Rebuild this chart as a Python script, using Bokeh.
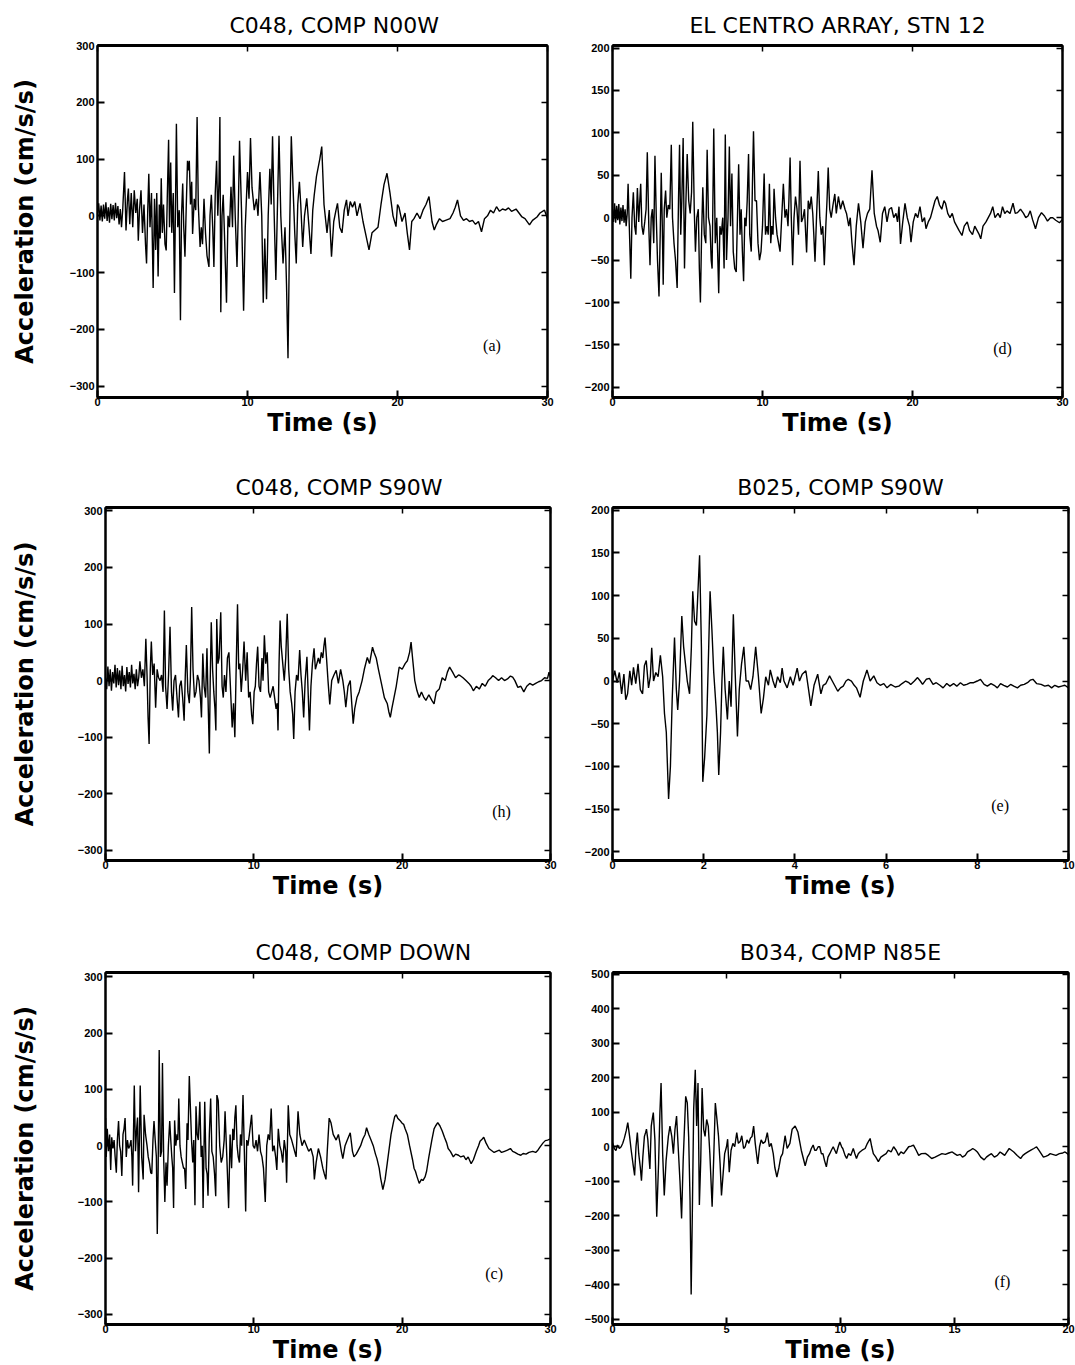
from bokeh.plotting import figure
from bokeh.layouts import column, row
from bokeh.models import LinearAxis, FixedTicker, Label, Range1d, CustomJSTickFormatter
from bokeh.embed import file_html
from bokeh.resources import INLINE

# ---------------- data ----------------
# (a) C048, COMP N00W
t_a = [
    0.00, 0.08, 0.16, 0.24, 0.32, 0.40, 0.48, 0.56, 0.64, 0.72,
    0.80, 0.88, 0.96, 1.04, 1.12, 1.20, 1.28, 1.36, 1.44, 1.52,
    1.60, 1.68, 1.80, 1.90, 2.00, 2.06, 2.15, 2.25, 2.35, 2.45,
    2.55, 2.65, 2.72, 2.80, 2.90, 3.00, 3.10, 3.20, 3.27, 3.35,
    3.42, 3.50, 3.60, 3.71, 3.80, 3.88, 3.95, 4.04, 4.12, 4.18,
    4.25, 4.32, 4.40, 4.50, 4.58, 4.65, 4.74, 4.80, 4.88, 4.95,
    5.05, 5.13, 5.20, 5.26, 5.35, 5.45, 5.53, 5.60, 5.68, 5.75,
    5.83, 5.92, 6.00, 6.07, 6.12, 6.20, 6.28, 6.34, 6.45, 6.55,
    6.64, 6.72, 6.84, 6.92, 7.00, 7.10, 7.20, 7.30, 7.43, 7.50,
    7.59, 7.68, 7.76, 7.85, 7.94, 8.02, 8.10, 8.16, 8.22, 8.30,
    8.38, 8.45, 8.60, 8.70, 8.80, 8.90, 9.00, 9.08, 9.18, 9.30,
    9.38, 9.47, 9.60, 9.74, 9.85, 10.00, 10.10, 10.20, 10.30, 10.45,
    10.60, 10.70, 10.83, 10.95, 11.05, 11.15, 11.27, 11.38, 11.49, 11.58,
    11.67, 11.78, 11.89, 12.00, 12.10, 12.22, 12.37, 12.50, 12.60, 12.70,
    12.80, 12.92, 13.05, 13.15, 13.25, 13.35, 13.46, 13.55, 13.68, 13.80,
    13.95, 14.10, 14.23, 14.35, 14.45, 14.60, 14.82, 14.95, 15.10, 15.30,
    15.45, 15.60, 15.75, 15.90, 16.00, 16.15, 16.30, 16.45, 16.60, 16.70,
    16.85, 17.00, 17.15, 17.30, 17.50, 17.70, 17.90, 18.10, 18.30, 18.50,
    18.70, 18.90, 19.10, 19.30, 19.50, 19.70, 19.90, 20.00, 20.10, 20.30,
    20.50, 20.65, 20.80, 20.95, 21.10, 21.30, 21.50, 21.70, 21.90, 22.10,
    22.30, 22.45, 22.60, 22.80, 23.00, 23.20, 23.50, 23.70, 23.85, 24.00,
    24.20, 24.40, 24.60, 24.80, 25.00, 25.20, 25.40, 25.60, 25.80, 26.00,
    26.20, 26.40, 26.60, 26.80, 27.00, 27.20, 27.40, 27.60, 27.90, 28.10,
    28.30, 28.50, 28.80, 29.00, 29.30, 29.50, 29.80, 30.00]
acc_a = [
    5, 22, -8, 18, -10, 20, -5, 24, -9, 15,
    -12, 21, -6, 19, -8, 23, -4, 17, -15, 12,
    -20, 10, 77, -26, 30, 48, -15, 40, -20, 45,
    5, 30, -44, 10, 45, -30, 20, -50, -84, 10,
    74, -20, 40, -127, 30, -60, 40, -107, 20, -40,
    66, -30, 20, -50, -61, 30, 134, -20, 94, -30,
    40, -136, 20, 162, -20, 10, -184, 0, 57, -20,
    -72, 20, 97, 80, 97, 20, 60, -32, 30, 10,
    174, 20, -55, -20, -50, 30, -30, -70, -90, 0,
    37, -20, -90, 40, 97, 0, 60, 174, -170, 0,
    37, -20, -153, 0, -20, 51, -20, 106, 0, -90,
    0, 132, 10, -167, -20, 77, 30, 137, 50, 10,
    30, 0, 77, 0, -153, -40, -147, 0, 83, 20,
    140, 0, -113, 20, 141, 0, -84, -20, -120, -251,
    -40, 140, 40, -30, -84, 20, 60, 20, -55, 0,
    31, -20, -67, 10, 37, 70, 100, 122, 20, -30,
    10, -72, -10, 10, 22, -20, -30, 10, 28, 0,
    25, 15, 25, 0, 22, -10, -35, -60, -30, -25,
    -20, 20, 55, 75, 40, 0, -19, 20, 15, -10,
    5, -30, -60, -10, -5, 5, -5, 10, 20, 34,
    -10, -25, -15, -5, -10, -8, -5, 5, 15, 28,
    0, -8, -5, -10, -8, -15, -10, -28, -5, 0,
    10, 5, 16, 8, 12, 10, 14, 8, 12, 5,
    -2, -5, -16, -8, -2, 5, 10, -5]

# (d) EL CENTRO ARRAY, STN 12
t_d = [
    0.00, 0.07, 0.14, 0.21, 0.28, 0.35, 0.42, 0.49, 0.56, 0.63,
    0.70, 0.77, 0.84, 0.91, 0.98, 1.04, 1.12, 1.22, 1.30, 1.39,
    1.48, 1.56, 1.66, 1.75, 1.82, 1.88, 1.96, 2.05, 2.15, 2.24,
    2.32, 2.42, 2.50, 2.58, 2.66, 2.75, 2.83, 2.92, 3.00, 3.10,
    3.18, 3.25, 3.32, 3.38, 3.45, 3.54, 3.62, 3.72, 3.82, 3.92,
    4.00, 4.10, 4.20, 4.31, 4.40, 4.47, 4.55, 4.62, 4.71, 4.80,
    4.88, 4.98, 5.08, 5.18, 5.27, 5.35, 5.45, 5.53, 5.62, 5.72,
    5.79, 5.86, 5.94, 6.02, 6.12, 6.22, 6.31, 6.40, 6.50, 6.58,
    6.64, 6.75, 6.85, 6.95, 7.08, 7.16, 7.25, 7.35, 7.44, 7.52,
    7.60, 7.70, 7.79, 7.87, 7.96, 8.05, 8.15, 8.25, 8.33, 8.41,
    8.50, 8.58, 8.66, 8.74, 8.82, 8.90, 8.98, 9.07, 9.15, 9.25,
    9.33, 9.40, 9.50, 9.60, 9.70, 9.80, 9.90, 10.00, 10.11, 10.20,
    10.30, 10.38, 10.46, 10.55, 10.62, 10.70, 10.77, 10.87, 10.97, 11.07,
    11.17, 11.28, 11.39, 11.50, 11.60, 11.70, 11.76, 11.84, 11.92, 12.01,
    12.10, 12.20, 12.30, 12.40, 12.50, 12.60, 12.70, 12.80, 12.94, 13.05,
    13.15, 13.25, 13.35, 13.42, 13.50, 13.60, 13.72, 13.82, 13.92, 14.02,
    14.12, 14.22, 14.30, 14.38, 14.48, 14.58, 14.70, 14.82, 14.92, 15.06,
    15.20, 15.35, 15.50, 15.60, 15.75, 15.85, 15.96, 16.10, 16.25, 16.40,
    16.55, 16.70, 16.85, 17.00, 17.15, 17.30, 17.45, 17.60, 17.70, 17.85,
    18.00, 18.15, 18.30, 18.45, 18.60, 18.75, 18.90, 19.00, 19.10, 19.20,
    19.35, 19.50, 19.65, 19.80, 19.90, 20.05, 20.20, 20.35, 20.50, 20.65,
    20.80, 20.90, 21.05, 21.20, 21.35, 21.50, 21.65, 21.80, 21.95, 22.10,
    22.20, 22.35, 22.50, 22.65, 22.80, 22.95, 23.10, 23.30, 23.45, 23.65,
    23.80, 24.00, 24.15, 24.30, 24.45, 24.55, 24.70, 24.90, 25.05, 25.20,
    25.35, 25.50, 25.70, 25.85, 26.00, 26.15, 26.30, 26.50, 26.70, 26.85,
    27.00, 27.20, 27.40, 27.55, 27.70, 27.85, 28.00, 28.20, 28.40, 28.60,
    28.80, 29.00, 29.20, 29.35, 29.55, 29.80, 30.00]
acc_d = [
    10, -5, 17, -6, 14, -3, 16, -8, 12, -4,
    15, -6, 10, -10, 5, 40, -10, -72, 0, 30,
    -10, -20, 35, -5, 20, 40, -10, -20, -5, 10,
    77, -10, -56, 0, 10, -30, 73, 0, -50, -93,
    -20, 53, -10, -79, 10, 32, 0, 15, 10, 86,
    0, -30, -50, -83, 20, 86, -20, 20, 94, -60,
    10, 75, 20, 5, 30, 113, 10, -40, 0, 10,
    -60, -100, -20, 36, -20, -30, 80, 0, -10, -50,
    -60, 105, -30, 0, -89, -10, -20, 0, -60, 98,
    -50, 0, 84, -10, 52, -40, -60, -64, 0, 63,
    -20, 10, -40, -75, 0, -10, 20, 75, -20, -40,
    40, 102, 20, 20, -30, -50, -40, -10, 52, -20,
    -10, -20, 40, -30, -10, -20, 34, 0, -20, -30,
    -40, 0, 40, 0, 10, -10, 20, 71, 0, -56,
    0, 25, 10, -20, 67, -5, 0, 10, -41, 20,
    10, 25, 5, -20, -52, 0, 55, 0, -20, -10,
    -56, -10, 20, 59, 10, 0, 15, 28, 5, 25,
    10, 20, 10, 5, -10, 0, -29, -56, -10, 17,
    -5, -36, -5, 5, 10, 56, 5, -10, -15, -29,
    5, 13, -5, 10, 12, 0, 5, -5, 13, -31,
    -5, 17, 0, -10, -29, -5, 5, 0, 13, -5,
    0, -13, -5, 0, 10, 20, 25, 15, 10, 20,
    17, 5, 0, 5, -5, -10, -15, -21, -10, -5,
    -15, -20, -10, -15, -20, -25, -10, -5, 0, 5,
    13, 0, 5, 0, 13, 5, 8, 5, 17, 5,
    6, 10, 5, 0, 2, 8, -2, -13, 0, 6,
    2, -4, 0, 0, -3, -6, -2]

# (b) C048, COMP S90W
t_b = [
    0.00, 0.08, 0.16, 0.24, 0.32, 0.40, 0.48, 0.56, 0.64, 0.72,
    0.80, 0.88, 0.96, 1.04, 1.12, 1.20, 1.28, 1.36, 1.44, 1.52,
    1.60, 1.68, 1.76, 1.84, 1.92, 2.00, 2.08, 2.16, 2.24, 2.32,
    2.42, 2.52, 2.62, 2.72, 2.80, 2.87, 2.94, 3.02, 3.09, 3.18,
    3.28, 3.38, 3.48, 3.58, 3.68, 3.78, 3.88, 3.97, 4.05, 4.15,
    4.25, 4.35, 4.45, 4.53, 4.62, 4.72, 4.82, 4.92, 5.00, 5.10,
    5.20, 5.30, 5.38, 5.45, 5.55, 5.65, 5.72, 5.81, 5.90, 6.00,
    6.10, 6.20, 6.30, 6.40, 6.47, 6.56, 6.65, 6.75, 6.84, 6.92,
    7.00, 7.06, 7.13, 7.22, 7.30, 7.38, 7.44, 7.50, 7.58, 7.66,
    7.77, 7.86, 7.94, 8.02, 8.12, 8.22, 8.32, 8.42, 8.54, 8.63,
    8.72, 8.80, 8.90, 8.98, 9.06, 9.15, 9.25, 9.34, 9.45, 9.55,
    9.65, 9.75, 9.85, 9.93, 10.02, 10.10, 10.18, 10.26, 10.35, 10.45,
    10.55, 10.62, 10.71, 10.80, 10.90, 11.00, 11.10, 11.20, 11.30, 11.40,
    11.50, 11.58, 11.63, 11.70, 11.77, 11.85, 11.95, 12.05, 12.15, 12.25,
    12.35, 12.45, 12.55, 12.62, 12.69, 12.78, 12.88, 12.98, 13.09, 13.18,
    13.27, 13.36, 13.46, 13.58, 13.66, 13.75, 13.85, 13.95, 14.06, 14.15,
    14.25, 14.35, 14.45, 14.55, 14.65, 14.72, 14.80, 14.90, 15.00, 15.12,
    15.25, 15.40, 15.55, 15.70, 15.85, 16.00, 16.10, 16.20, 16.35, 16.50,
    16.60, 16.70, 16.80, 16.95, 17.10, 17.30, 17.45, 17.65, 17.80, 18.00,
    18.10, 18.25, 18.40, 18.60, 18.80, 19.00, 19.10, 19.20, 19.30, 19.45,
    19.60, 19.80, 20.00, 20.20, 20.35, 20.50, 20.60, 20.70, 20.85, 21.00,
    21.15, 21.30, 21.45, 21.60, 21.80, 22.00, 22.15, 22.30, 22.50, 22.70,
    22.90, 23.05, 23.20, 23.40, 23.60, 23.80, 23.90, 24.10, 24.30, 24.50,
    24.65, 24.80, 25.00, 25.20, 25.40, 25.60, 25.80, 26.00, 26.10, 26.30,
    26.50, 26.70, 26.90, 27.10, 27.30, 27.45, 27.60, 27.80, 28.00, 28.20,
    28.40, 28.60, 28.80, 29.00, 29.20, 29.40, 29.60, 29.80, 29.90, 30.00]
acc_b = [
    5, -15, 25, -10, 20, -18, 15, -5, 28, -12,
    22, -8, 18, -15, 26, -10, 10, -19, 24, -6,
    15, -12, 28, -5, 12, -15, 20, -10, 5, 34,
    5, 20, -10, 74, 10, -65, -112, 20, 69, 10,
    30, -48, 20, 5, 0, 10, -20, 124, -10, -50,
    10, 95, -20, -53, 0, 10, -30, -65, -10, 0,
    -30, -71, 10, 63, -20, -40, 0, 130, 20, -30,
    -20, 10, 0, -30, -65, 48, -10, -30, 57, -40,
    -129, 0, 103, 20, -20, -50, -88, 109, 30, 40,
    121, -10, -30, 10, -20, 40, 50, -10, -83, -40,
    -100, 10, 135, 20, 30, -20, 20, 69, 0, 50,
    -30, -20, -60, -77, -20, -10, 30, 60, -10, -20,
    40, 0, 80, 30, 50, -20, -30, -20, -10, -30,
    -50, -40, -88, 30, 106, 60, 30, 0, 40, 118,
    20, -20, -40, -60, -103, -20, 10, 0, 54, 10,
    -20, -65, 0, 42, -20, -88, -10, 30, 57, 20,
    30, 40, 30, 50, 40, 60, 76, 40, 0, -42,
    0, 10, 18, -5, 20, 0, -20, -47, -10, 0,
    -40, -76, -50, -30, -20, 0, 20, 41, 30, 59,
    50, 40, 20, -5, -30, -41, -55, -65, -50, -30,
    -10, 24, 20, 30, 35, 50, 68, 40, 0, -18,
    -30, -20, -29, -35, -25, -35, -41, -20, -15, 5,
    0, 15, 24, 15, 5, 10, 9, 5, 0, -5,
    -10, -18, -10, -15, -5, -10, 0, 5, 9, 5,
    0, 5, 0, 3, 8, 6, 0, -12, -10, -20,
    -10, -5, -8, -5, -2, 0, 5, 4, 15, 5]

# (e) B025, COMP S90W
t_e = [
    0.00, 0.05, 0.10, 0.15, 0.20, 0.25, 0.29, 0.33, 0.38, 0.42,
    0.46, 0.51, 0.56, 0.61, 0.66, 0.70, 0.74, 0.79, 0.83, 0.86,
    0.90, 0.95, 1.00, 1.05, 1.10, 1.14, 1.18, 1.23, 1.27, 1.31,
    1.36, 1.40, 1.43, 1.47, 1.52, 1.56, 1.60, 1.64, 1.69, 1.73,
    1.76, 1.80, 1.84, 1.87, 1.91, 1.95, 1.98, 2.02, 2.07, 2.11,
    2.14, 2.18, 2.22, 2.27, 2.30, 2.33, 2.37, 2.40, 2.43, 2.47,
    2.52, 2.56, 2.60, 2.65, 2.69, 2.74, 2.78, 2.83, 2.88, 2.93,
    2.98, 3.03, 3.08, 3.14, 3.20, 3.26, 3.31, 3.36, 3.42, 3.46,
    3.52, 3.57, 3.62, 3.68, 3.72, 3.76, 3.83, 3.90, 3.96, 4.05,
    4.10, 4.16, 4.24, 4.30, 4.35, 4.42, 4.50, 4.57, 4.62, 4.68,
    4.76, 4.82, 4.87, 4.94, 5.00, 5.06, 5.12, 5.17, 5.24, 5.30,
    5.35, 5.43, 5.50, 5.55, 5.58, 5.65, 5.73, 5.80, 5.87, 5.95,
    6.02, 6.10, 6.20, 6.28, 6.35, 6.43, 6.50, 6.54, 6.62, 6.69,
    6.75, 6.80, 6.88, 6.95, 7.03, 7.10, 7.18, 7.25, 7.33, 7.40,
    7.48, 7.55, 7.63, 7.70, 7.77, 7.85, 7.92, 8.00, 8.07, 8.15,
    8.22, 8.30, 8.37, 8.44, 8.51, 8.58, 8.66, 8.73, 8.80, 8.88,
    8.95, 9.03, 9.10, 9.16, 9.22, 9.30, 9.40, 9.48, 9.56, 9.63,
    9.70, 9.78, 9.85, 9.92, 10.00]
acc_e = [
    0, 12, -2, 10, -15, 8, -22, -15, 12, -5,
    16, -3, 20, -10, -15, 18, 24, -8, 5, 39,
    0, 10, 5, 30, 5, -38, -60, -138, -100, -20,
    51, -10, -34, 0, 76, 40, 20, 0, -15, 40,
    105, 70, 65, 100, 147, 40, -118, -90, -40, 40,
    105, 60, 10, -30, -60, -110, -60, 0, 40, -10,
    -45, 0, -30, 78, 10, -65, -10, 20, 40, 0,
    0, -10, 5, 40, 5, -38, -20, 5, -5, 13,
    0, -8, 5, -2, 15, 0, -8, 5, -5, 15,
    0, 8, 12, -10, -29, -5, 8, -15, -5, -3,
    6, 0, -5, -12, -8, -6, 0, 2, 0, -5,
    -8, -19, 0, 8, 13, 0, 6, -2, -5, -3,
    -8, -4, -7, -6, -3, 0, -2, -4, 0, 4,
    0, -4, 2, 3, -4, -2, -5, -8, -3, -6,
    -3, -6, -2, -5, -4, -2, -2, 0, 2, -4,
    -6, -3, -5, -8, -3, -5, -7, -4, -6, -8,
    -5, -4, -2, 1, 2, -3, -4, -6, -5, -8,
    -5, -7, -6, -5, -8]

# (c) C048, COMP DOWN
t_c = [
    0.00, 0.05, 0.12, 0.20, 0.28, 0.35, 0.42, 0.50, 0.58, 0.65,
    0.73, 0.80, 0.88, 0.95, 1.02, 1.10, 1.18, 1.25, 1.32, 1.40,
    1.48, 1.56, 1.64, 1.72, 1.78, 1.83, 1.94, 2.02, 2.10, 2.16,
    2.23, 2.34, 2.44, 2.54, 2.60, 2.70, 2.80, 2.88, 2.96, 3.05,
    3.12, 3.20, 3.27, 3.35, 3.43, 3.49, 3.55, 3.62, 3.70, 3.78,
    3.84, 3.92, 4.00, 4.08, 4.15, 4.24, 4.33, 4.40, 4.47, 4.53,
    4.59, 4.66, 4.74, 4.82, 4.88, 4.94, 5.02, 5.10, 5.18, 5.26,
    5.33, 5.41, 5.50, 5.56, 5.65, 5.72, 5.80, 5.88, 5.95, 6.03,
    6.10, 6.18, 6.26, 6.36, 6.45, 6.52, 6.58, 6.69, 6.78, 6.85,
    6.91, 7.00, 7.09, 7.17, 7.26, 7.35, 7.43, 7.51, 7.60, 7.70,
    7.80, 7.90, 8.00, 8.06, 8.15, 8.22, 8.30, 8.40, 8.50, 8.58,
    8.66, 8.72, 8.79, 8.87, 8.95, 9.03, 9.10, 9.18, 9.27, 9.36,
    9.45, 9.52, 9.60, 9.70, 9.85, 9.95, 10.05, 10.15, 10.25, 10.35,
    10.45, 10.55, 10.65, 10.77, 10.87, 10.97, 11.07, 11.17, 11.27, 11.37,
    11.47, 11.55, 11.65, 11.75, 11.85, 11.95, 12.05, 12.15, 12.21, 12.32,
    12.42, 12.55, 12.65, 12.75, 12.85, 12.98, 13.10, 13.25, 13.40, 13.55,
    13.70, 13.85, 14.00, 14.08, 14.20, 14.35, 14.50, 14.65, 14.75, 14.86,
    14.95, 15.08, 15.20, 15.35, 15.55, 15.70, 15.80, 15.90, 16.00, 16.15,
    16.30, 16.50, 16.65, 16.75, 16.90, 17.00, 17.20, 17.35, 17.50, 17.60,
    17.75, 17.90, 18.05, 18.20, 18.30, 18.45, 18.55, 18.70, 18.85, 19.00,
    19.15, 19.25, 19.40, 19.50, 19.60, 19.70, 19.85, 20.00, 20.10, 20.20,
    20.35, 20.50, 20.70, 20.80, 20.90, 21.00, 21.15, 21.30, 21.40, 21.55,
    21.65, 21.80, 22.00, 22.15, 22.25, 22.40, 22.55, 22.70, 22.85, 23.00,
    23.10, 23.25, 23.45, 23.60, 23.80, 23.95, 24.15, 24.30, 24.45, 24.65,
    24.80, 25.00, 25.15, 25.25, 25.40, 25.50, 25.65, 25.85, 26.00, 26.20,
    26.35, 26.55, 26.70, 26.90, 27.10, 27.30, 27.45, 27.60, 27.80, 28.00,
    28.15, 28.35, 28.55, 28.80, 29.00, 29.15, 29.30, 29.50, 29.65, 29.80,
    30.00]
acc_c = [
    49, -20, 30, -10, 20, -43, 15, -5, 10, -20,
    -48, 10, 44, 0, -10, -54, 20, 30, 49, -20,
    10, -5, 0, 10, -20, -71, 107, -10, 30, 50,
    -83, 107, -20, -60, 55, 20, 0, -20, -30, -48,
    -50, 10, 44, 10, -20, -157, -40, 170, -20, -10,
    147, -20, -100, -30, -71, 0, 44, 10, -20, -40,
    -111, 45, 0, 20, 10, 84, 0, -20, -30, -40,
    -40, -77, 40, 10, 124, 70, 10, -30, 10, -106,
    70, 20, 10, 78, -20, 0, -111, 78, -40, -50,
    -89, 20, 84, -10, -20, -50, -90, 90, 80, 0,
    -30, -20, 10, 61, 0, -50, -111, 20, -40, 30,
    10, 50, 72, 0, -20, -30, 20, 0, 90, -10,
    -117, 10, 0, 20, 55, 0, -5, 10, -10, 20,
    -10, -20, -40, -100, 0, 20, 10, 66, -10, 0,
    -20, -43, 30, 0, -10, -30, 10, -10, -66, 72,
    20, 10, 0, -10, -20, 61, 20, 0, 10, 0,
    -10, -5, -20, -60, -30, -5, -20, -40, -50, -60,
    -10, 49, 41, 20, 10, 20, 6, -10, -23, 0,
    10, 23, -10, -20, -15, -10, 0, 12, 20, 32,
    20, 10, 0, -15, -23, -40, -58, -78, -60, -30,
    0, 20, 40, 52, 55, 49, 45, 40, 38, 30,
    20, 0, -25, -40, -46, -55, -67, -60, -62, -55,
    -45, -20, 10, 30, 35, 41, 35, 26, 15, 5,
    -5, -10, -20, -15, -17, -20, -18, -25, -20, -32,
    -25, -10, 0, 8, 12, 15, 5, -5, -8, -12,
    -10, -8, -12, -10, -8, -5, -10, -12, -15, -17,
    -14, -15, -12, -10, -12, -8, -2, 5, 9, 10,
    12]

# (f) B034, COMP N85E
t_f = [
    0.00, 0.08, 0.15, 0.22, 0.30, 0.38, 0.45, 0.52, 0.60, 0.67,
    0.75, 0.82, 0.90, 0.97, 1.03, 1.09, 1.15, 1.22, 1.27, 1.33,
    1.40, 1.45, 1.49, 1.55, 1.60, 1.64, 1.70, 1.74, 1.79, 1.86,
    1.94, 2.02, 2.08, 2.13, 2.20, 2.27, 2.35, 2.45, 2.52, 2.60,
    2.67, 2.74, 2.81, 2.88, 2.96, 3.03, 3.10, 3.16, 3.21, 3.28,
    3.34, 3.40, 3.45, 3.50, 3.56, 3.63, 3.69, 3.75, 3.81, 3.87,
    3.93, 4.00, 4.06, 4.13, 4.20, 4.27, 4.37, 4.44, 4.51, 4.58,
    4.65, 4.72, 4.78, 4.85, 4.92, 5.00, 5.05, 5.12, 5.20, 5.28,
    5.36, 5.45, 5.52, 5.60, 5.67, 5.75, 5.82, 5.90, 5.98, 6.05,
    6.12, 6.19, 6.26, 6.37, 6.45, 6.52, 6.60, 6.70, 6.79, 6.88,
    6.96, 7.05, 7.12, 7.21, 7.30, 7.38, 7.46, 7.57, 7.66, 7.78,
    7.88, 8.01, 8.13, 8.28, 8.45, 8.55, 8.64, 8.72, 8.80, 8.87,
    8.94, 9.02, 9.09, 9.16, 9.23, 9.30, 9.38, 9.45, 9.53, 9.60,
    9.68, 9.75, 9.82, 9.90, 9.97, 10.05, 10.10, 10.20, 10.27, 10.35,
    10.45, 10.56, 10.63, 10.70, 10.78, 10.85, 10.95, 11.08, 11.18, 11.30,
    11.37, 11.44, 11.55, 11.66, 11.77, 11.88, 12.00, 12.10, 12.22, 12.33,
    12.44, 12.55, 12.65, 12.77, 12.88, 12.99, 13.10, 13.20, 13.32, 13.43,
    13.55, 13.72, 13.85, 14.00, 14.15, 14.30, 14.45, 14.60, 14.75, 14.90,
    15.00, 15.12, 15.25, 15.35, 15.47, 15.57, 15.70, 15.80, 15.92, 16.00,
    16.15, 16.30, 16.40, 16.50, 16.62, 16.75, 16.88, 17.00, 17.10, 17.20,
    17.30, 17.40, 17.50, 17.60, 17.75, 17.90, 18.00, 18.10, 18.22, 18.35,
    18.48, 18.60, 18.70, 18.80, 18.90, 19.00, 19.10, 19.20, 19.30, 19.45,
    19.60, 19.75, 19.85, 19.95, 20.00]
acc_f = [
    12, -5, -11, 5, -5, 0, 10, 25, 46, 70,
    30, -10, -50, -83, 0, 41, -20, -60, -98, -30,
    30, 41, 51, 20, -30, -64, 60, 79, 99, 20,
    -203, -50, 100, 185, -20, -141, -40, 30, 60, 30,
    -20, 50, 89, 0, -100, -208, -40, 60, 146, 127,
    30, -150, -428, -200, 108, 223, 60, 185, -169, -40,
    170, 50, 30, 79, 60, -20, -174, -30, 127, 80,
    30, -50, -141, -80, -20, 0, 22, -74, -10, 10,
    0, 41, 10, 15, 32, -5, 0, 20, 10, 25,
    30, 60, 10, -50, 0, 20, 10, 15, 41, 0,
    10, -20, -60, -88, -60, -30, -20, 32, -5, 10,
    51, 60, 43, -10, -55, -30, -20, -5, 5, -10,
    -10, 0, 0, -20, -20, -40, -58, -30, -20, -10,
    0, -10, -20, 0, 14, 0, -5, -25, -34, -20,
    -25, -5, -20, -34, -20, -15, -10, -5, 10, 24,
    0, -20, -30, -43, -30, -25, -20, -10, -15, 0,
    -10, -25, -15, -20, -10, 0, 2, 5, -10, -25,
    -20, -19, -25, -34, -30, -25, -20, -22, -18, -15,
    -20, -25, -22, -30, -25, -15, -10, -5, -10, -15,
    -30, -38, -30, -25, -20, -30, -25, -15, -20, -25,
    -15, -5, -10, -15, -25, -34, -25, -20, -15, -10,
    -5, 0, -10, -20, -30, -28, -25, -20, -22, -25,
    -20, -18, -15, -20, -24]

titles = ["C048, COMP N00W", "EL CENTRO ARRAY, STN 12",
          "C048, COMP S90W", "B025, COMP S90W",
          "C048, COMP DOWN", "B034, COMP N85E"]
tags = ["(a)", "(d)", "(h)", "(e)", "(c)", "(f)"]

ticks_x30 = [0, 10, 20, 30]
ticks_x10 = [0, 2, 4, 6, 8, 10]
ticks_x20 = [0, 5, 10, 15, 20]
ticks_y300 = [-300, -200, -100, 0, 100, 200, 300]
ticks_y200 = [-200, -150, -100, -50, 0, 50, 100, 150, 200]
ticks_y500 = [-500, -400, -300, -200, -100, 0, 100, 200, 300, 400, 500]

# ---------------- drawing ----------------
def blank_axis(ticks):
    ax = LinearAxis(ticker=FixedTicker(ticks=ticks),
                    formatter=CustomJSTickFormatter(code="return ''"))
    ax.major_tick_in = 6
    ax.major_tick_out = 0
    ax.major_tick_line_width = 1.5
    ax.minor_tick_line_color = None
    ax.axis_line_width = 2
    ax.major_label_standoff = 0
    return ax


def panel(t, acc, title, tag, tag_x, tag_y, x_rng, y_rng, x_ticks, y_ticks,
          ylabel, b_left, f_w, b_right, b_top, f_h, b_bottom,
          title_align, title_offset, ylab_standoff):
    p = figure(frame_width=f_w, frame_height=f_h,
               min_border_left=b_left, min_border_right=b_right,
               min_border_top=b_top, min_border_bottom=b_bottom,
               x_range=Range1d(*x_rng), y_range=Range1d(*y_rng),
               output_backend="svg", toolbar_location=None)
    p.background_fill_color = "white"
    p.border_fill_color = "white"
    p.grid.visible = False
    p.outline_line_color = "black"
    p.outline_line_width = 2

    p.title.text = title
    p.title.align = title_align
    p.title.offset = title_offset
    p.title.text_font = "DejaVu Sans"
    p.title.text_font_style = "normal"
    p.title.text_font_size = "22px"
    p.title.text_color = "black"
    p.title.standoff = 16

    xa = p.xaxis[0]
    ya = p.yaxis[0]
    xa.ticker = FixedTicker(ticks=x_ticks)
    ya.ticker = FixedTicker(ticks=y_ticks)
    for ax in (xa, ya):
        ax.major_tick_in = 7
        ax.major_tick_out = 0
        ax.major_tick_line_width = 2
        ax.minor_tick_line_color = None
        ax.axis_line_width = 2
        ax.major_label_text_font = "Liberation Sans"
        ax.major_label_text_font_style = "bold"
        ax.major_label_text_font_size = "11px"
        ax.major_label_text_color = "black"
    xa.axis_line_width = 3
    xa.major_label_standoff = 0
    ya.major_label_standoff = 3
    xa.axis_label = "Time (s)"
    xa.axis_label_text_font = "DejaVu Sans"
    xa.axis_label_text_font_style = "bold"
    xa.axis_label_text_font_size = "24px"
    xa.axis_label_text_color = "black"
    xa.axis_label_standoff = 0
    if ylabel:
        ya.axis_label = "Acceleration (cm/s/s)"
        ya.axis_label_text_font = "DejaVu Sans"
        ya.axis_label_text_font_style = "bold"
        ya.axis_label_text_font_size = "24px"
        ya.axis_label_text_color = "black"
        ya.axis_label_standoff = ylab_standoff

    top = blank_axis(x_ticks)
    top.axis_line_width = 3
    p.add_layout(top, "above")
    p.add_layout(blank_axis(y_ticks), "right")

    p.line(t, acc, line_color="black", line_width=1.4)
    p.add_layout(Label(x=tag_x, y=tag_y, text=tag, text_font="Liberation Serif",
                       text_font_size="16px", text_align="center",
                       text_baseline="middle", text_color="black"))
    return p


pa = panel(t_a, acc_a, titles[0], tags[0], 26.3, -228, (0, 30), (-320, 300),
           ticks_x30, ticks_y300, True, 97, 450, 33, 45, 352, 65, "left", 132, 28)
pd_ = panel(t_d, acc_d, titles[1], tags[1], 26.0, -154, (0, 30), (-212, 203),
            ticks_x30, ticks_y200, False, 32, 450, 13, 45, 352, 65, "center", -5, 0)
pb = panel(t_b, acc_b, titles[2], tags[2], 26.7, -232, (0, 30), (-318, 306),
           ticks_x30, ticks_y300, True, 105, 445, 30, 45, 353, 65, "left", 130, 36)
pe = panel(t_e, acc_e, titles[3], tags[3], 8.5, -146, (0, 10), (-210, 203),
           ticks_x10, ticks_y200, False, 32, 456, 7, 45, 353, 65, "center", -5, 0)
pc = panel(t_c, acc_c, titles[4], tags[4], 26.2, -227, (0, 30), (-318, 308),
           ticks_x30, ticks_y300, True, 105, 445, 30, 47, 352, 40, "left", 150, 36)
pf = panel(t_f, acc_f, titles[5], tags[5], 17.1, -389, (0, 20), (-515, 505),
           ticks_x20, ticks_y500, False, 32, 456, 7, 47, 352, 40, "center", -5, 0)

layout = column(row(pa, pd_), row(pb, pe), row(pc, pf))

with open("out.html", "w") as fh:
    fh.write(file_html(layout, INLINE))
